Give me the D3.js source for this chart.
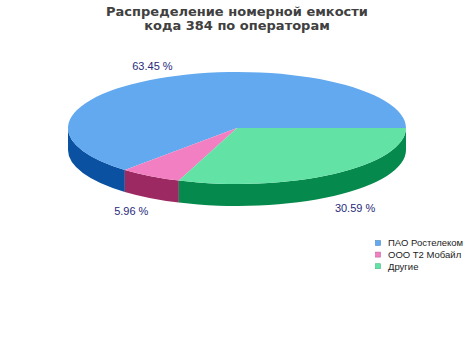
<!DOCTYPE html>
<html>
<head>
<meta charset="utf-8">
<script src="https://cdn.jsdelivr.net/npm/d3@7"></script>
<style>
  html, body { margin: 0; padding: 0; background: #ffffff; }
  svg { display: block; }
</style>
</head>
<body>
<svg id="chart" width="474" height="338"></svg>
<script>
// Share of the numbering capacity of code 384 by operator
const operators = ["ПАО Ростелеком", "ООО Т2 Мобайл", "Другие"];
const shares = [63.45, 5.96, 30.59];
const topColors = ["#62a9ef", "#f27fc1", "#62e2a4"];
const sideColors = ["#0a51a1", "#9c2961", "#05894c"];
const titleLines = ["Распределение номерной емкости", "кода 384 по операторам"];

const width = 474, height = 338;
const cx = 237, cy = 128;      // centre of the top face
const rx = 169, ry = 56;       // ellipse radii of the tilted disc
const depth = 22;              // thickness of the disc

const svg = d3.select("#chart");

// Title
const title = svg.append("text")
  .attr("x", cx)
  .attr("text-anchor", "middle")
  .attr("font-family", "DejaVu Sans, sans-serif")
  .attr("font-weight", "bold")
  .attr("font-size", 13)
  .attr("fill", "#404040");
titleLines.forEach((line, i) => {
  title.append("tspan").attr("x", cx).attr("y", 15.5 + i * 14.5).text(line);
});

// Angles run counter-clockwise from 3 o'clock
const pie = d3.pie().sort(null).startAngle(0).endAngle(2 * Math.PI);
const arcs = pie(shares);

const pt = (a, dy = 0) => [cx + rx * Math.cos(a), cy - ry * Math.sin(a) + dy];

const g = svg.append("g");

// Outer wall: only the front half (angles between PI and 2PI) is visible
arcs.forEach((d, i) => {
  const a0 = Math.max(d.startAngle, Math.PI);
  const a1 = Math.min(d.endAngle, 2 * Math.PI);
  if (a1 <= a0) return;
  const p0 = pt(a0), p1 = pt(a1), q1 = pt(a1, depth), q0 = pt(a0, depth);
  const path = `M${p0} A${rx},${ry} 0 0 0 ${p1} L${q1} A${rx},${ry} 0 0 1 ${q0} Z`;
  g.append("path").attr("d", path).attr("fill", sideColors[i]);
});

// Top faces
arcs.forEach((d, i) => {
  const p0 = pt(d.startAngle), p1 = pt(d.endAngle);
  const large = (d.endAngle - d.startAngle) > Math.PI ? 1 : 0;
  const path = `M${cx},${cy} L${p0} A${rx},${ry} 0 ${large} 0 ${p1} Z`;
  g.append("path").attr("d", path).attr("fill", topColors[i]);
});

// Percentage labels placed outside each slice
const fmt = d3.format(".2f");
arcs.forEach((d, i) => {
  const mid = (d.startAngle + d.endAngle) / 2;
  const front = Math.sin(mid) < 0;
  const x = cx + rx * 1.22 * Math.cos(mid);
  const y = cy - ry * 1.22 * Math.sin(mid) + (front ? depth + 2.5 : 0);
  svg.append("text")
    .attr("x", x).attr("y", y)
    .attr("dy", "0.35em")
    .attr("text-anchor", "middle")
    .attr("font-family", "Liberation Sans, Arial, sans-serif")
    .attr("font-size", 11)
    .attr("fill", "#2a2a7c")
    .text(fmt(d.data) + " %");
});

// Legend
const legend = svg.append("g").attr("transform", "translate(375,243)");
operators.forEach((name, i) => {
  const row = legend.append("g").attr("transform", `translate(0,${i * 11.6})`);
  row.append("rect")
    .attr("x", 0.5).attr("y", -2.5)
    .attr("width", 5).attr("height", 5)
    .attr("fill", topColors[i])
    .attr("stroke", d3.color(topColors[i]).darker(0.6))
    .attr("stroke-width", 0.6);
  row.append("text")
    .attr("x", 13).attr("y", 0)
    .attr("dy", "0.35em")
    .attr("font-family", "Liberation Sans, Arial, sans-serif")
    .attr("font-size", 9.5)
    .attr("fill", "#222222")
    .text(name);
});
</script>
</body>
</html>
